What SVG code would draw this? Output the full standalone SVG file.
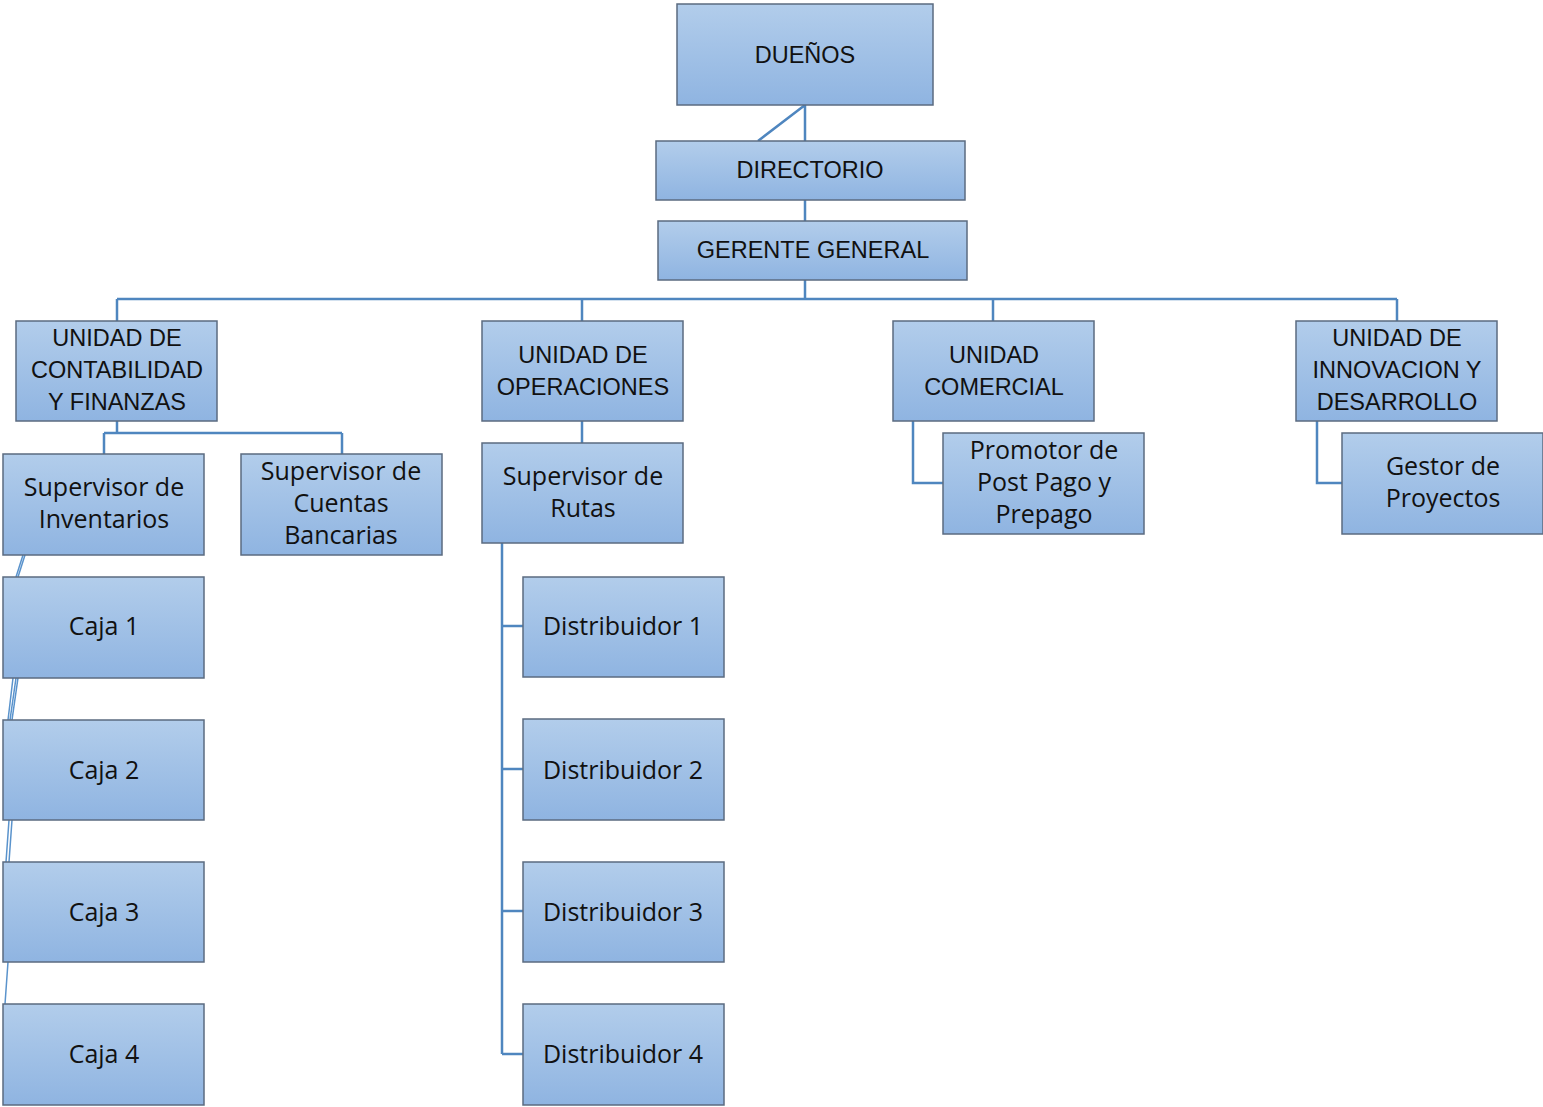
<svg xmlns="http://www.w3.org/2000/svg" width="1543" height="1107" viewBox="0 0 1543 1107">
<defs>
<linearGradient id="g" x1="0" y1="0" x2="0" y2="1">
<stop offset="0" stop-color="#b2cdeb"/>
<stop offset="1" stop-color="#8fb4e1"/>
</linearGradient>
<style>
.b{fill:url(#g);stroke:#5b6b80;stroke-width:1.5}
.t{font-family:"Liberation Sans",Arial,sans-serif;font-size:23.5px;fill:#111;text-anchor:middle}
.m{font-family:"Open Sans","Liberation Sans",sans-serif;font-size:25px;fill:#111;text-anchor:middle}
.c{fill:none;stroke:#4f86bf;stroke-width:2.5}
.c2{fill:none;stroke:#5a93cc;stroke-width:1.5}
</style>
</defs>
<rect width="1543" height="1107" fill="#fff"/>
<g id="connectors">
<path class="c" d="M805 105V141M805 105L758 141M805 200V221M805 280V299M117 299H1397M117 299V321M582 299V321M993 299V321M1397 299V321"/>
<path class="c" d="M117 421V433M104 433H342M104 433V454M342 433V454"/>
<path class="c" d="M582 421V443M502 543V1054M502 626H523M502 769H523M502 911H523M502 1054H523"/>
<path class="c" d="M913 421V483H943M1317 421V483H1342"/>
<path class="c2" d="M25 555L18 577M23 555L16 577M16 678L10 720M18 678L12 720M13 678L8 720M9 820L6 862M12 820L9 862M8 962L5 1004"/>
</g>
<g id="duenos"><rect class="b" x="677" y="4" width="256" height="101"/><text class="t" x="805" y="63">DUEÑOS</text></g>
<g id="directorio"><rect class="b" x="656" y="141" width="309" height="59"/><text class="t" x="810" y="178">DIRECTORIO</text></g>
<g id="gerente"><rect class="b" x="658" y="221" width="309" height="59"/><text class="t" x="813" y="258">GERENTE GENERAL</text></g>
<g id="contabilidad"><rect class="b" x="16" y="321" width="201" height="100"/><text class="t" x="117" y="346">UNIDAD DE</text><text class="t" x="117" y="378">CONTABILIDAD</text><text class="t" x="117" y="410">Y FINANZAS</text></g>
<g id="operaciones"><rect class="b" x="482" y="321" width="201" height="100"/><text class="t" x="583" y="363">UNIDAD DE</text><text class="t" x="583" y="395">OPERACIONES</text></g>
<g id="comercial"><rect class="b" x="893" y="321" width="201" height="100"/><text class="t" x="994" y="363">UNIDAD</text><text class="t" x="994" y="395">COMERCIAL</text></g>
<g id="innovacion"><rect class="b" x="1296" y="321" width="201" height="100"/><text class="t" x="1397" y="346">UNIDAD DE</text><text class="t" x="1397" y="378">INNOVACION Y</text><text class="t" x="1397" y="410">DESARROLLO</text></g>
<g id="sup-inventarios"><rect class="b" x="3" y="454" width="201" height="101"/><text class="m" x="104" y="496">Supervisor de</text><text class="m" x="104" y="528">Inventarios</text></g>
<g id="sup-cuentas"><rect class="b" x="241" y="454" width="201" height="101"/><text class="m" x="341" y="480">Supervisor de</text><text class="m" x="341" y="512">Cuentas</text><text class="m" x="341" y="544">Bancarias</text></g>
<g id="sup-rutas"><rect class="b" x="482" y="443" width="201" height="100"/><text class="m" x="583" y="485">Supervisor de</text><text class="m" x="583" y="517">Rutas</text></g>
<g id="promotor"><rect class="b" x="943" y="433" width="201" height="101"/><text class="m" x="1044" y="459">Promotor de</text><text class="m" x="1044" y="491">Post Pago y</text><text class="m" x="1044" y="523">Prepago</text></g>
<g id="gestor"><rect class="b" x="1342" y="433" width="201" height="101"/><text class="m" x="1443" y="475">Gestor de</text><text class="m" x="1443" y="507">Proyectos</text></g>
<g id="caja1"><rect class="b" x="3" y="577" width="201" height="101"/><text class="m" x="104" y="635">Caja 1</text></g>
<g id="caja2"><rect class="b" x="3" y="720" width="201" height="100"/><text class="m" x="104" y="779">Caja 2</text></g>
<g id="caja3"><rect class="b" x="3" y="862" width="201" height="100"/><text class="m" x="104" y="921">Caja 3</text></g>
<g id="caja4"><rect class="b" x="3" y="1004" width="201" height="101"/><text class="m" x="104" y="1063">Caja 4</text></g>
<g id="dist1"><rect class="b" x="523" y="577" width="201" height="100"/><text class="m" x="623" y="635">Distribuidor 1</text></g>
<g id="dist2"><rect class="b" x="523" y="719" width="201" height="101"/><text class="m" x="623" y="779">Distribuidor 2</text></g>
<g id="dist3"><rect class="b" x="523" y="862" width="201" height="100"/><text class="m" x="623" y="921">Distribuidor 3</text></g>
<g id="dist4"><rect class="b" x="523" y="1004" width="201" height="101"/><text class="m" x="623" y="1063">Distribuidor 4</text></g>
</svg>
